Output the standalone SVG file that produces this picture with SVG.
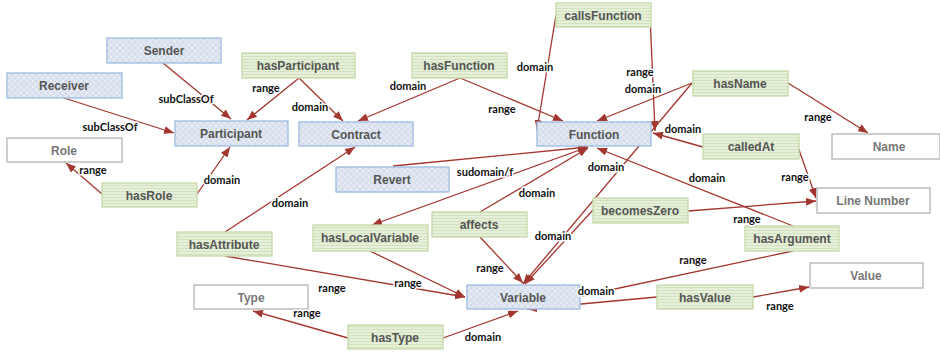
<svg xmlns="http://www.w3.org/2000/svg" width="940" height="353" viewBox="0 0 940 353">
<defs>
<pattern id="hatch" width="6" height="6" patternUnits="userSpaceOnUse">
<rect width="6" height="6" fill="#d6dfeb"/>
<path d="M0,0 L6,6 M6,0 L0,6" stroke="#e9eef6" stroke-width="1"/>
</pattern>
<pattern id="stripes" width="4" height="3" patternUnits="userSpaceOnUse">
<rect width="4" height="3" fill="#e6efda"/>
<path d="M0,2.5 L4,2.5" stroke="#d2e2bc" stroke-width="1"/>
</pattern>
<marker id="arr" viewBox="0 0 10 8" refX="10" refY="4" markerWidth="10" markerHeight="8" markerUnits="userSpaceOnUse" orient="auto">
<path d="M0,0 L10,4 L0,8 z" fill="#a3362f"/>
</marker>
</defs>
<style>
.cls rect{fill:url(#hatch);stroke:#9dbbe3;stroke-width:1.3}
.prop rect{fill:url(#stripes);stroke:#c6d9a8;stroke-width:1.3}
.lit rect{fill:#fff;stroke:#bdbdbd;stroke-width:1.5}
.node text{font-family:"Liberation Sans",Arial,sans-serif;font-weight:bold;font-size:12px;text-anchor:middle;fill:#555}
.lit text{fill:#777}
#connectors path{stroke:#a3362f;stroke-width:1.3;fill:none}
.lbl{font-family:Lato,"Liberation Sans",sans-serif;font-weight:bold;font-size:11px;text-anchor:middle;fill:#111;stroke:#fff;stroke-width:3px;paint-order:stroke;stroke-linejoin:round}
</style>
<rect width="940" height="353" fill="#fff"/>
<g id="connectors">
<path d="M163,63 L231,119" marker-end="url(#arr)"/>
<path d="M64,98 L174,133" marker-end="url(#arr)"/>
<path d="M102,194 L66,163" marker-end="url(#arr)"/>
<path d="M197,194 L230,147" marker-end="url(#arr)"/>
<path d="M299,78 L247,120" marker-end="url(#arr)"/>
<path d="M299,78 L343,121" marker-end="url(#arr)"/>
<path d="M460,78 L358,121" marker-end="url(#arr)"/>
<path d="M460,78 L563,121" marker-end="url(#arr)"/>
<path d="M556,15 L537,130" marker-end="url(#arr)"/>
<path d="M650,15 L655,131" marker-end="url(#arr)"/>
<path d="M692,83 L597,121" marker-end="url(#arr)"/>
<path d="M692,83 L523,284" marker-end="url(#arr)"/>
<path d="M788,83 L868,133" marker-end="url(#arr)"/>
<path d="M703,147 L653,133" marker-end="url(#arr)"/>
<path d="M798,147 L816,198" marker-end="url(#arr)"/>
<path d="M393,166 L588,147" marker-end="url(#arr)"/>
<path d="M588,147 L372,225" marker-end="url(#arr)"/>
<path d="M480,212 L588,148" marker-end="url(#arr)"/>
<path d="M793,226 L597,148" marker-end="url(#arr)"/>
<path d="M688,211 L816,201" marker-end="url(#arr)"/>
<path d="M593,210 L525,284" marker-end="url(#arr)"/>
<path d="M793,251 L582,296"/>
<path d="M225,232 L355,147" marker-end="url(#arr)"/>
<path d="M225,256 L465,297" marker-end="url(#arr)"/>
<path d="M370,251 L465,297" marker-end="url(#arr)"/>
<path d="M480,237 L523,283" marker-end="url(#arr)"/>
<path d="M348,338 L253,311" marker-end="url(#arr)"/>
<path d="M443,338 L518,311" marker-end="url(#arr)"/>
<path d="M657,297 L527,309" marker-end="url(#arr)"/>
<path d="M753,297 L809,287" marker-end="url(#arr)"/>
</g>
<g id="n-sender" class="node cls"><rect x="107" y="38" width="114" height="25"/><text x="164" y="55">Sender</text></g>
<g id="n-receiver" class="node cls"><rect x="7" y="73" width="115" height="25"/><text x="64" y="90">Receiver</text></g>
<g id="n-role" class="node lit"><rect x="7" y="138" width="115" height="24"/><text x="64" y="155">Role</text></g>
<g id="n-hasRole" class="node prop"><rect x="102" y="183" width="95" height="24"/><text x="149" y="200">hasRole</text></g>
<g id="n-participant" class="node cls"><rect x="175" y="121" width="113" height="25"/><text x="231" y="138">Participant</text></g>
<g id="n-hasParticipant" class="node prop"><rect x="242" y="53" width="113" height="25"/><text x="298" y="70">hasParticipant</text></g>
<g id="n-contract" class="node cls"><rect x="299" y="122" width="114" height="24"/><text x="356" y="139">Contract</text></g>
<g id="n-hasFunction" class="node prop"><rect x="412" y="53" width="95" height="25"/><text x="459" y="70">hasFunction</text></g>
<g id="n-callsFunction" class="node prop"><rect x="556" y="3" width="95" height="24"/><text x="603" y="20">callsFunction</text></g>
<g id="n-function" class="node cls"><rect x="537" y="122" width="114" height="24"/><text x="594" y="139">Function</text></g>
<g id="n-hasName" class="node prop"><rect x="693" y="71" width="95" height="25"/><text x="740" y="88">hasName</text></g>
<g id="n-name" class="node lit"><rect x="832" y="134" width="108" height="25"/><text x="889" y="151">Name</text></g>
<g id="n-calledAt" class="node prop"><rect x="703" y="134" width="96" height="25"/><text x="751" y="151">calledAt</text></g>
<g id="n-lineNumber" class="node lit"><rect x="817" y="188" width="113" height="25"/><text x="873" y="205">Line Number</text></g>
<g id="n-revert" class="node cls"><rect x="336" y="167" width="113" height="25"/><text x="392" y="184">Revert</text></g>
<g id="n-becomesZero" class="node prop"><rect x="593" y="198" width="95" height="25"/><text x="640" y="215">becomesZero</text></g>
<g id="n-hasArgument" class="node prop"><rect x="745" y="226" width="94" height="25"/><text x="792" y="243">hasArgument</text></g>
<g id="n-hasAttribute" class="node prop"><rect x="177" y="232" width="95" height="24"/><text x="224" y="249">hasAttribute</text></g>
<g id="n-hasLocalVariable" class="node prop"><rect x="313" y="225" width="115" height="26"/><text x="370" y="242">hasLocalVariable</text></g>
<g id="n-affects" class="node prop"><rect x="432" y="212" width="95" height="25"/><text x="479" y="229">affects</text></g>
<g id="n-variable" class="node cls"><rect x="467" y="285" width="113" height="24"/><text x="523" y="302">Variable</text></g>
<g id="n-value" class="node lit"><rect x="810" y="263" width="113" height="25"/><text x="866" y="280">Value</text></g>
<g id="n-hasValue" class="node prop"><rect x="657" y="285" width="96" height="24"/><text x="705" y="302">hasValue</text></g>
<g id="n-type" class="node lit"><rect x="194" y="285" width="114" height="24"/><text x="251" y="302">Type</text></g>
<g id="n-hasType" class="node prop"><rect x="348" y="325" width="95" height="24"/><text x="395" y="342">hasType</text></g>
<g id="labels">
<text class="lbl" x="186" y="103">subClassOf</text>
<text class="lbl" x="110" y="131">subClassOf</text>
<text class="lbl" x="266" y="92">range</text>
<text class="lbl" x="310" y="111">domain</text>
<text class="lbl" x="408" y="90">domain</text>
<text class="lbl" x="502" y="113">range</text>
<text class="lbl" x="535" y="71">domain</text>
<text class="lbl" x="640" y="76">range</text>
<text class="lbl" x="643" y="93">domain</text>
<text class="lbl" x="818" y="121">range</text>
<text class="lbl" x="683" y="133">domain</text>
<text class="lbl" x="795" y="181">range</text>
<text class="lbl" x="93" y="174">range</text>
<text class="lbl" x="222" y="184">domain</text>
<text class="lbl" x="485" y="176">sudomain/f</text>
<text class="lbl" x="537" y="197">domain</text>
<text class="lbl" x="606" y="171">domain</text>
<text class="lbl" x="707" y="182">domain</text>
<text class="lbl" x="747" y="223">range</text>
<text class="lbl" x="553" y="240">domain</text>
<text class="lbl" x="290" y="207">domain</text>
<text class="lbl" x="332" y="292">range</text>
<text class="lbl" x="408" y="287">range</text>
<text class="lbl" x="490" y="272">range</text>
<text class="lbl" x="693" y="264">range</text>
<text class="lbl" x="596" y="295">domain</text>
<text class="lbl" x="307" y="317">range</text>
<text class="lbl" x="483" y="341">domain</text>
<text class="lbl" x="780" y="310">range</text>
</g>
</svg>
